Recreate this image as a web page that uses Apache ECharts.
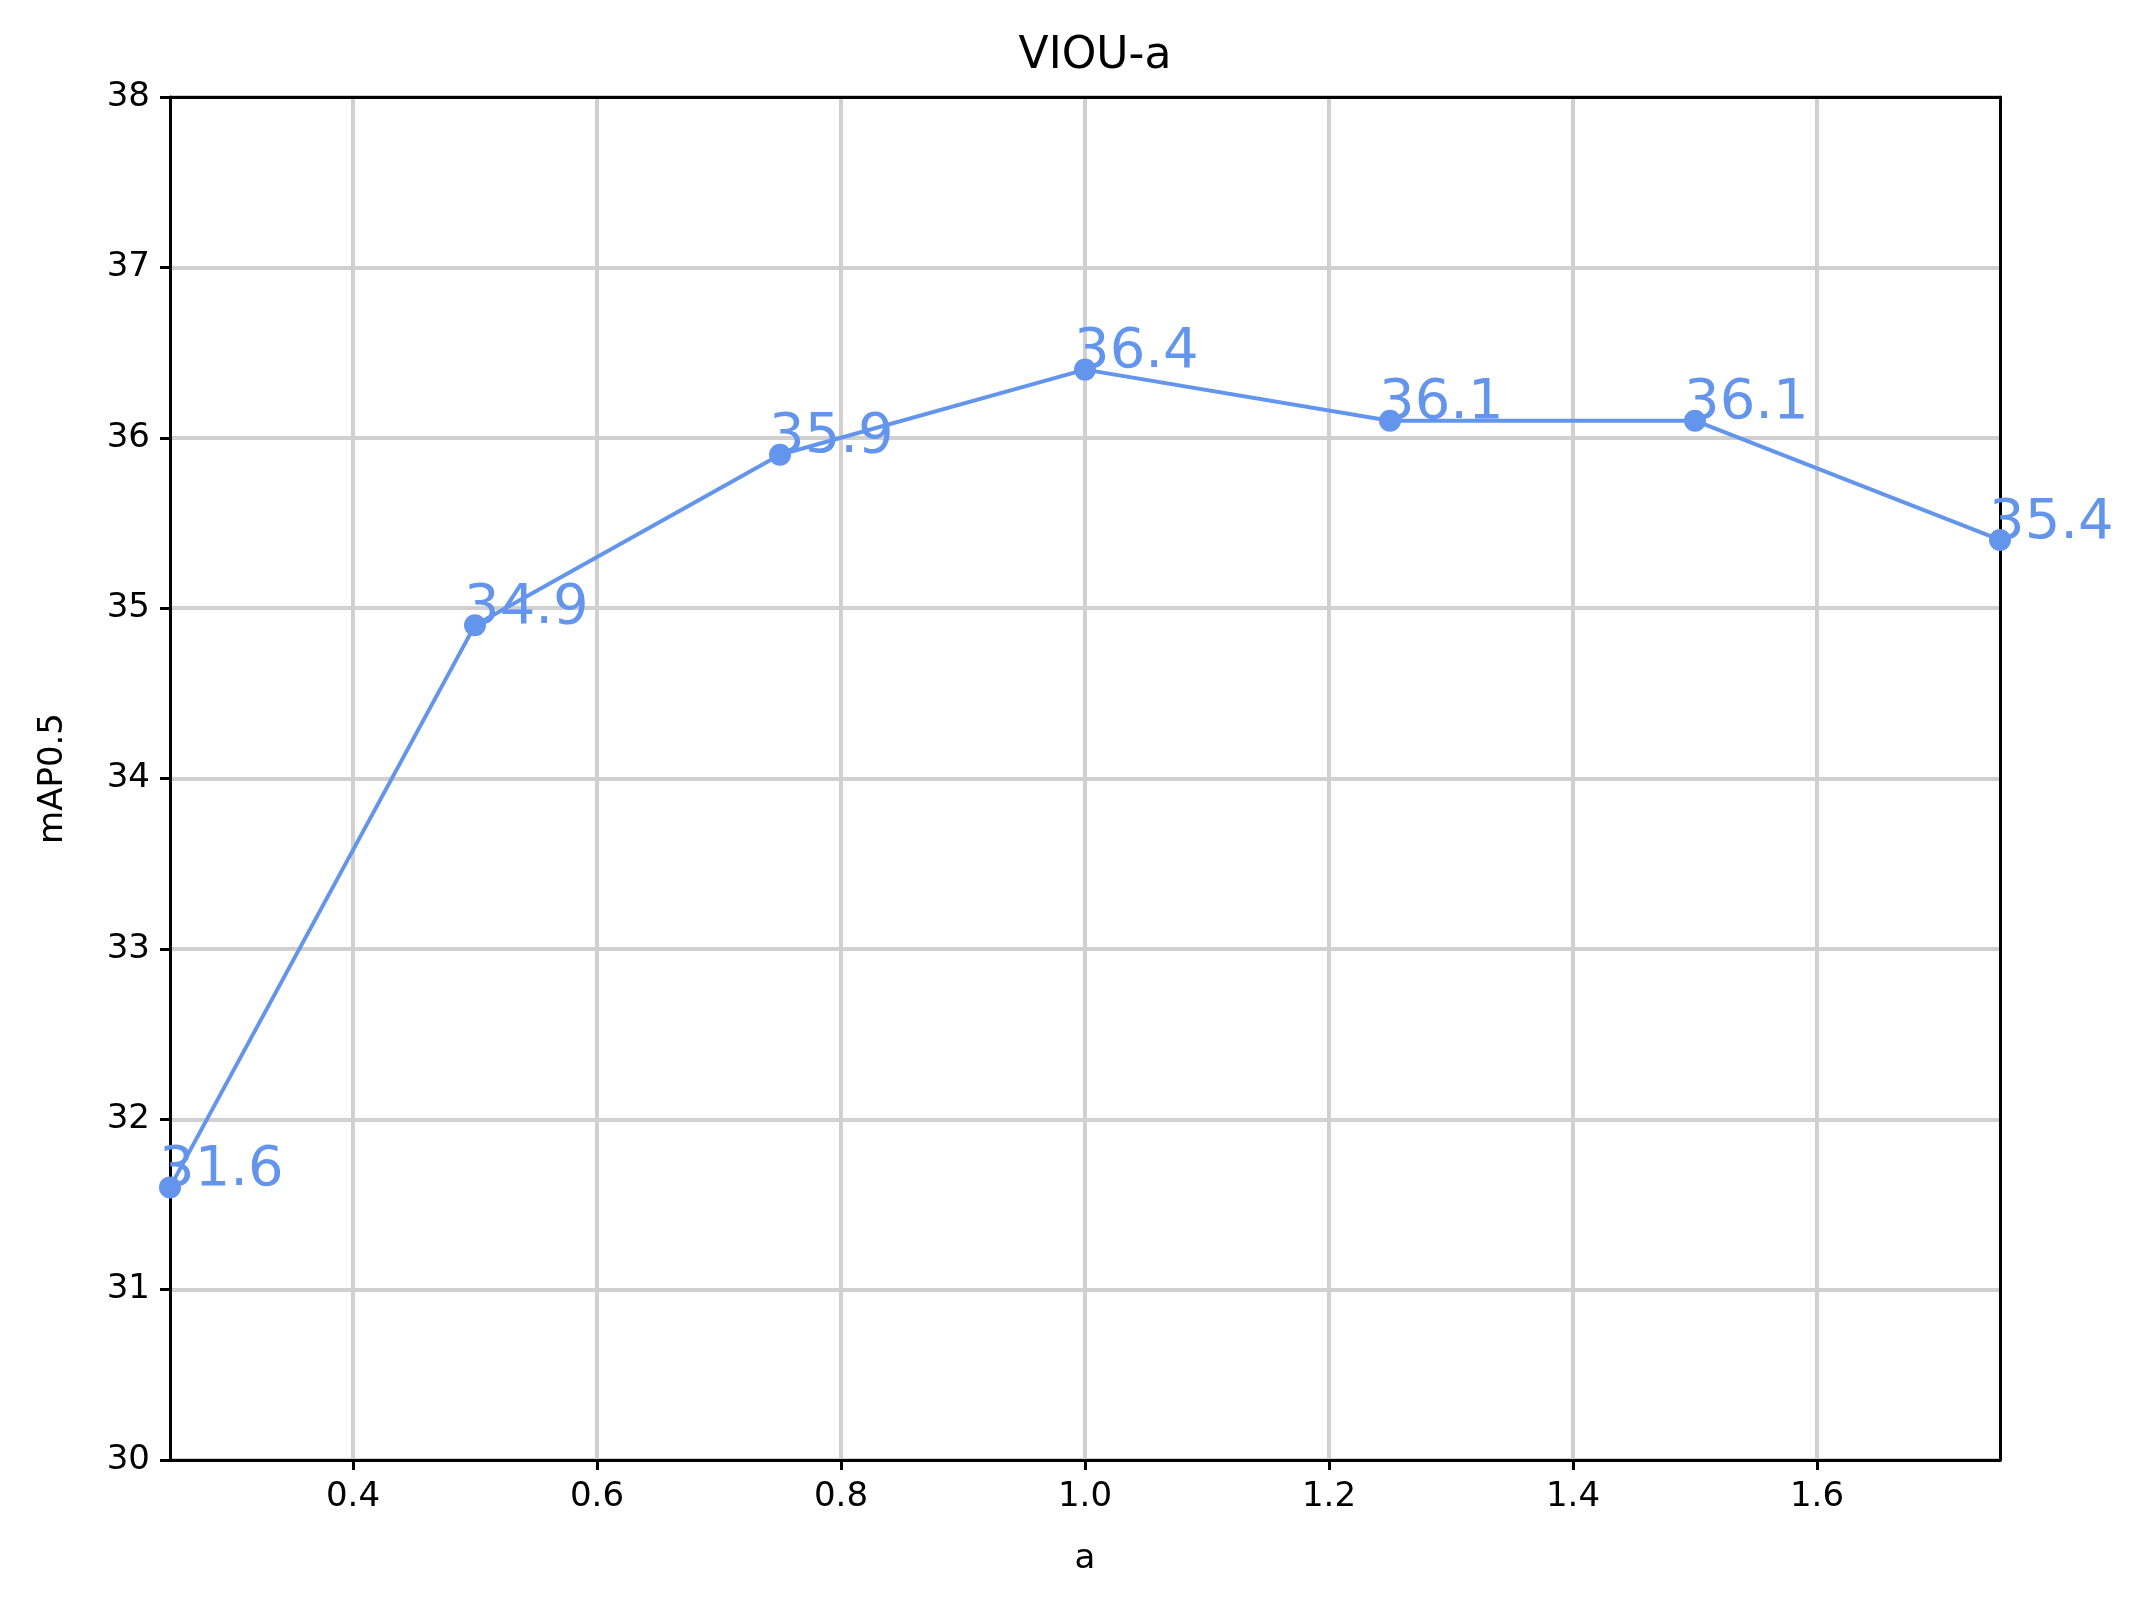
<!DOCTYPE html>
<html>
<head>
<meta charset="utf-8">
<script src="https://cdn.jsdelivr.net/npm/echarts@6/dist/echarts.min.js"></script>
<style>html,body{margin:0;padding:0;background:#fff}#chart{width:2144px;height:1599px}</style>
</head>
<body>
<div id="chart"></div>
<script>
const aValues = [0.25, 0.5, 0.75, 1.0, 1.25, 1.5, 1.75];
const mapValues = [31.6, 34.9, 35.9, 36.4, 36.1, 36.1, 35.4];
const xTicks = [0.4, 0.6, 0.8, 1.0, 1.2, 1.4, 1.6];

const color = '#6495ED';
const font = 'DejaVu Sans';
const chart = echarts.init(document.getElementById('chart'));

// plain black frame lines for the top and right sides
const frameAxis = {
  axisLine: { show: true, lineStyle: { color: '#000', width: 3 } },
  axisTick: { show: false }, axisLabel: { show: false }, splitLine: { show: false }
};

chart.setOption({
  animation: false,
  title: {
    text: 'VIOU-a', left: 1090, top: 30, textAlign: 'center',
    textStyle: { fontFamily: font, fontSize: 44, fontWeight: 'normal', color: '#000' }
  },
  grid: { left: 170, top: 97, width: 1830, height: 1363 },
  xAxis: [{
    type: 'value', min: 0.25, max: 1.75,
    name: 'a', nameLocation: 'middle', nameGap: 82,
    nameTextStyle: { fontFamily: font, fontSize: 34, color: '#000' },
    axisLine: { lineStyle: { color: '#000', width: 3 } },
    axisTick: { customValues: xTicks, length: 10, lineStyle: { color: '#000', width: 3 } },
    axisLabel: { customValues: xTicks, margin: 20, fontFamily: font, fontSize: 34, color: '#000',
      formatter: v => v.toFixed(1) },
    splitLine: { show: true, lineStyle: { color: '#d0d0d0', width: 4 } }
  }, Object.assign({ type: 'value', position: 'top', min: 0.25, max: 1.75 }, frameAxis)],
  yAxis: [{
    type: 'value', min: 30, max: 38, interval: 1,
    name: 'mAP0.5', nameLocation: 'middle', nameGap: 100,
    nameTextStyle: { fontFamily: font, fontSize: 34, color: '#000' },
    axisLine: { show: true, lineStyle: { color: '#000', width: 3 } },
    axisTick: { show: true, length: 10, lineStyle: { color: '#000', width: 3 } },
    axisLabel: { margin: 20, fontFamily: font, fontSize: 34, color: '#000' },
    splitLine: { show: true, lineStyle: { color: '#d0d0d0', width: 4 } }
  }, Object.assign({ type: 'value', position: 'right', min: 30, max: 38 }, frameAxis)],
  series: [{
    type: 'line',
    data: aValues.map((a, i) => [a, mapValues[i]]),
    color: color,
    lineStyle: { width: 4, color: color },
    symbol: 'circle', symbolSize: 22,
    itemStyle: { color: color },
    label: {
      show: true, position: [0, 22], align: 'left', verticalAlign: 'bottom',
      fontFamily: font, fontSize: 56, color: color,
      formatter: p => p.value[1].toFixed(1)
    },
    z: 5,
    clip: false
  }]
});
</script>
</body>
</html>
